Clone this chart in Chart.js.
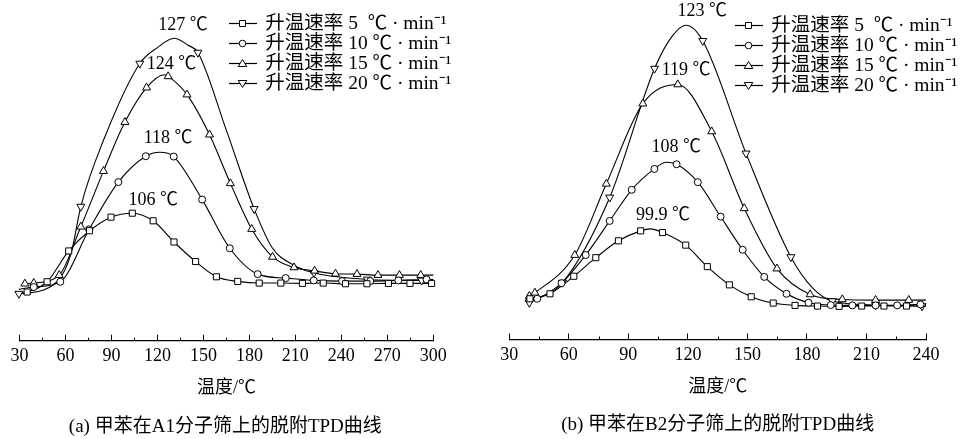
<!DOCTYPE html>
<html><head><meta charset="utf-8">
<script src="https://cdn.jsdelivr.net/npm/chart.js@4.4.1/dist/chart.umd.min.js"></script>
<style>
html,body{margin:0;padding:0;background:#fff;}
#wrap{position:relative;width:962px;height:439px;overflow:hidden;background:#fff;}
.box{position:absolute;top:0;width:481px;height:439px;}
#a{left:0}#b{left:481px}
</style></head><body>
<div id="wrap"><div class="box" id="a"><canvas id="ca" width="481" height="439"></canvas></div><div class="box" id="b"><canvas id="cb" width="481" height="439"></canvas></div></div>
<script>
// ---------- text ----------
const SERIES_LABELS = ['升温速率 5  ℃ · min⁻¹', '升温速率 10 ℃ · min⁻¹', '升温速率 15 ℃ · min⁻¹', '升温速率 20 ℃ · min⁻¹'];
const MARKERS = ['rect', 'circle', 'triangle', 'triangleDown'];
const X_TITLE = '温度/℃';
const CAPTION_A = '(a) 甲苯在A1分子筛上的脱附TPD曲线';
const CAPTION_B = '(b) 甲苯在B2分子筛上的脱附TPD曲线';
const A_X_RANGE = [30, 300];
const B_X_RANGE = [30, 240];
const X_STEP = 30;

// ---------- panel (a): marker points (temperature, signal a.u.) ----------
const A5_T = [35.0, 48.0, 62.1, 75.7, 89.7, 103.6, 117.2, 130.8, 144.9, 158.5, 172.4, 186.4, 200.5, 214.6, 228.2, 242.7, 256.7, 270.7, 284.8, 298.9];
const A5_V = [14.7, 17.8, 27.1, 33.2, 37.3, 38.5, 36.2, 29.8, 23.9, 19.3, 17.9, 17.4, 17.4, 17.3, 17.4, 17.2, 17.2, 17.3, 17.3, 17.3];
const A10_T = [39.3, 56.6, 75.4, 94.5, 112.4, 130.6, 149.2, 167.2, 185.4, 203.7, 222.0, 240.5, 258.8, 277.2, 295.6];
const A10_V = [16.2, 17.8, 33.6, 47.9, 55.7, 55.6, 42.6, 27.9, 20.1, 18.9, 18.2, 18.0, 18.0, 18.2, 18.5];
const A15_T = [33.5, 39.3, 55.9, 70.0, 84.8, 98.8, 112.9, 127.0, 139.3, 154.0, 167.6, 181.5, 195.1, 209.1, 222.5, 236.2, 250.2, 263.9, 277.9, 291.8];
const A15_V = [17.2, 17.4, 19.8, 34.4, 51.2, 66.0, 76.4, 79.8, 74.3, 62.2, 47.5, 33.7, 25.3, 22.1, 21.1, 20.2, 20.1, 19.8, 19.8, 19.8];
const A20_T = [29.6, 70.0, 108.5, 146.4, 183.1, 222.1, 257.0, 292.4];
const A20_V = [14.2, 40.5, 83.7, 87.0, 39.8, 20.5, 18.5, 18.2];
// panel (a): extra curve points between markers (no marker drawn)
const A5_CT = [29.5, 300];            const A5_CV = [14.3, 17.3];
const A10_CT = [29.5, 121.5, 300];    const A10_CV = [15.5, 56.9, 18.5];
const A15_CT = [124.5, 300];          const A15_CV = [80.3, 19.8];
const A20_CT = [45, 58, 64, 84.8, 120, 131, 140, 165, 195, 209, 300];
const A20_CV = [15.2, 20.0, 27.0, 60.5, 88.5, 91.3, 89.2, 63.5, 28.0, 22.8, 18.2];
const A_PEAKS = ['127 ℃', '124 ℃', '118 ℃', '106 ℃'];
const A_PEAK_T = [136.7, 129.1, 127.0, 117.2];
const A_PEAK_V = [95.3, 83.4, 61.0, 42.3];

// ---------- panel (b) ----------
const B5_T = [40.4, 50.5, 62.5, 73.6, 85.0, 96.2, 107.2, 118.9, 129.8, 140.9, 151.9, 163.0, 174.0, 185.3, 196.2, 207.6, 218.8, 230.2];
const B5_V = [12.3, 13.8, 19.1, 24.7, 29.8, 32.8, 32.3, 28.5, 22.0, 16.5, 12.9, 11.0, 10.3, 10.1, 10.0, 10.1, 10.1, 10.1];
const B10_T = [44.1, 56.3, 68.5, 80.6, 91.7, 103.1, 114.3, 125.0, 136.5, 147.6, 158.5, 169.7, 180.8, 192.0, 202.9, 214.6, 225.5, 237.2];
const B10_V = [12.3, 17.0, 25.5, 35.8, 45.2, 51.5, 52.9, 47.5, 37.1, 27.1, 18.9, 13.8, 11.1, 10.4, 10.3, 10.3, 10.3, 10.6];
const B15_T = [40.1, 42.9, 63.0, 78.9, 97.3, 114.9, 132.0, 148.4, 164.9, 181.6, 197.8, 214.6, 231.3];
const B15_V = [13.1, 14.1, 25.5, 47.0, 71.2, 77.0, 62.8, 39.6, 21.4, 13.6, 12.1, 11.9, 11.9];
const B20_T = [40.1, 56.8, 80.6, 103.2, 127.5, 149.3, 171.9, 192.8, 214.6, 238.0];
const B20_V = [11.1, 17.2, 42.9, 81.8, 90.2, 56.2, 24.9, 11.6, 10.4, 10.1];
const B5_CT = [38, 101, 240];         const B5_CV = [11.8, 33.4, 10.1];
const B10_CT = [38, 109.1, 240];      const B10_CV = [11.5, 53.5, 10.6];
const B15_CT = [240];                 const B15_CV = [11.9];
const B20_CT = [112, 119, 182.8, 240]; const B20_CV = [91.5, 94.9, 15.6, 10.1];
const B_PEAKS = ['123 ℃', '119 ℃', '108 ℃', '99.9 ℃'];
const B_PEAK_T = [127.2, 119.1, 114.1, 107.4];
const B_PEAK_V = [99.2, 81.3, 58.1, 37.4];

// ---------- helpers ----------
const FONT = "'Liberation Serif', 'Noto Sans CJK SC', serif";
const pts = (T, V) => T.map((t, i) => ({x: t, y: V[i]}));
const merged = (T, V, CT, CV) => pts(T, V).concat(pts(CT, CV)).sort((a, b) => a.x - b.x);

function legendSymbol(style) {
  const c = document.createElement('canvas');
  c.width = 29; c.height = 13;
  const g = c.getContext('2d');
  g.strokeStyle = '#000'; g.lineWidth = 1.2;
  g.beginPath(); g.moveTo(0, 6.5); g.lineTo(29, 6.5); g.stroke();
  g.fillStyle = '#fff'; g.lineWidth = 1;
  const cx = 14.5, cy = 6.5;
  g.beginPath();
  if (style === 'rect') g.rect(cx - 3, cy - 3, 6, 6);
  else if (style === 'circle') g.arc(cx, cy, 3.3, 0, Math.PI * 2);
  else if (style === 'triangle') { g.moveTo(cx, cy - 4); g.lineTo(cx + 4.3, cy + 3); g.lineTo(cx - 4.3, cy + 3); g.closePath(); }
  else { g.moveTo(cx, cy + 4); g.lineTo(cx + 4.3, cy - 3); g.lineTo(cx - 4.3, cy - 3); g.closePath(); }
  g.fill(); g.stroke();
  return c;
}
const LEGEND_IMGS = MARKERS.map(legendSymbol);

function markerOpts(style) {
  if (style === 'rect') return {pointStyle: 'rect', pointRadius: 4.3, pointRotation: 0};
  if (style === 'circle') return {pointStyle: 'circle', pointRadius: 3.5, pointRotation: 0};
  if (style === 'triangle') return {pointStyle: 'triangle', pointRadius: 4.6, pointRotation: 0};
  return {pointStyle: 'triangle', pointRadius: 4.6, pointRotation: 180};
}

function makePanel(canvasId, p) {
  const datasets = [];
  for (let s = 0; s < 4; s++) {
    const m = markerOpts(MARKERS[s]);
    datasets.push({
      label: SERIES_LABELS[s], data: pts(p.T[s], p.V[s]), showLine: false,
      pointStyle: m.pointStyle, pointRadius: m.pointRadius, pointRotation: m.pointRotation,
      pointBackgroundColor: '#fff', pointBorderColor: '#000', pointBorderWidth: 1,
      pointHoverRadius: m.pointRadius, order: 0, clip: false
    });
  }
  for (let s = 0; s < 4; s++) {
    datasets.push({
      label: 'curve' + s, data: merged(p.T[s], p.V[s], p.CT[s], p.CV[s]), showLine: true,
      borderColor: '#000', borderWidth: 1.1, pointRadius: 0, pointHoverRadius: 0,
      cubicInterpolationMode: 'monotone', tension: 0.4, fill: false, order: 1, clip: false
    });
  }
  const extras = {
    id: 'extras' + canvasId,
    beforeDraw(chart) {
      const lg = chart.legend;
      if (lg) {
        const w = lg.width, h = lg.height;
        lg.left = p.legendX; lg.top = p.legendY;
        lg.right = lg.left + w; lg.bottom = lg.top + h;
      }
    },
    afterDatasetsDraw(chart) {
      const ctx = chart.ctx, xs = chart.scales.x, ys = chart.scales.y;
      ctx.save();
      ctx.fillStyle = '#000';
      ctx.font = '18px ' + FONT;
      ctx.textAlign = 'center';
      ctx.textBaseline = 'middle';
      for (let i = 0; i < p.peaks.length; i++) {
        ctx.fillText(p.peaks[i], xs.getPixelForValue(p.peakT[i]), ys.getPixelForValue(p.peakV[i]));
      }
      ctx.restore();
    },
    afterDraw(chart) {
      const ctx = chart.ctx, xs = chart.scales.x;
      ctx.save();
      ctx.strokeStyle = '#000'; ctx.lineWidth = 1;
      for (let v = xs.min + X_STEP / 2; v < xs.max; v += X_STEP) {
        const px = Math.round(xs.getPixelForValue(v)) + 0.5;
        ctx.beginPath(); ctx.moveTo(px, xs.top); ctx.lineTo(px, xs.top - 3); ctx.stroke();
      }
      ctx.restore();
    }
  };
  return new Chart(document.getElementById(canvasId), {
    type: 'scatter',
    data: {datasets},
    plugins: [extras],
    options: {
      responsive: false, animation: false, devicePixelRatio: 1,
      events: [],
      layout: {padding: p.padding},
      scales: {
        x: {
          type: 'linear', min: p.range[0], max: p.range[1],
          ticks: {stepSize: X_STEP, color: '#000', font: {family: FONT, size: 18}, padding: 10.5, maxRotation: 0, autoSkip: false},
          grid: {display: true, drawOnChartArea: false, drawTicks: true, tickLength: -6, tickColor: '#000', tickWidth: 1},
          border: {display: true, color: '#000', width: 1.2},
          title: {display: true, text: X_TITLE, color: '#000', font: {family: FONT, size: 18}, padding: {top: 0, bottom: 8}}
        },
        y: {display: false, min: 0, max: 100}
      },
      plugins: {
        tooltip: {enabled: false},
        title: {display: true, text: p.caption, position: 'bottom', color: '#000', font: {family: FONT, size: 19, weight: 'normal'}, padding: {top: 8.3, bottom: 1}},
        legend: {
          display: true, position: 'chartArea', align: 'start',
          labels: {
            usePointStyle: true, pointStyleWidth: 26, padding: 0.5, color: '#000',
            font: {family: FONT, size: 19.5},
            generateLabels: () => SERIES_LABELS.map((t, i) => ({
              text: t, pointStyle: LEGEND_IMGS[i], fillStyle: '#fff', strokeStyle: '#000',
              lineWidth: 1, hidden: false, datasetIndex: i, fontColor: '#000'
            }))
          }
        }
      }
    }
  });
}

makePanel('ca', {
  range: A_X_RANGE, caption: CAPTION_A,
  padding: {left: 17.3, right: 47.7, top: 9.5, bottom: 0},
  T: [A5_T, A10_T, A15_T, A20_T], V: [A5_V, A10_V, A15_V, A20_V],
  CT: [A5_CT, A10_CT, A15_CT, A20_CT], CV: [A5_CV, A10_CV, A15_CV, A20_CV],
  peaks: A_PEAKS, peakT: A_PEAK_T, peakV: A_PEAK_V,
  legendX: 229, legendY: 13.25
});
makePanel('cb', {
  range: B_X_RANGE, caption: CAPTION_B,
  padding: {left: 28.3, right: 36, top: 8.3, bottom: 1.2},
  T: [B5_T, B10_T, B15_T, B20_T], V: [B5_V, B10_V, B15_V, B20_V],
  CT: [B5_CT, B10_CT, B15_CT, B20_CT], CV: [B5_CV, B10_CV, B15_CV, B20_CV],
  peaks: B_PEAKS, peakT: B_PEAK_T, peakV: B_PEAK_V,
  legendX: 254, legendY: 15.25
});
</script>
</body></html>
